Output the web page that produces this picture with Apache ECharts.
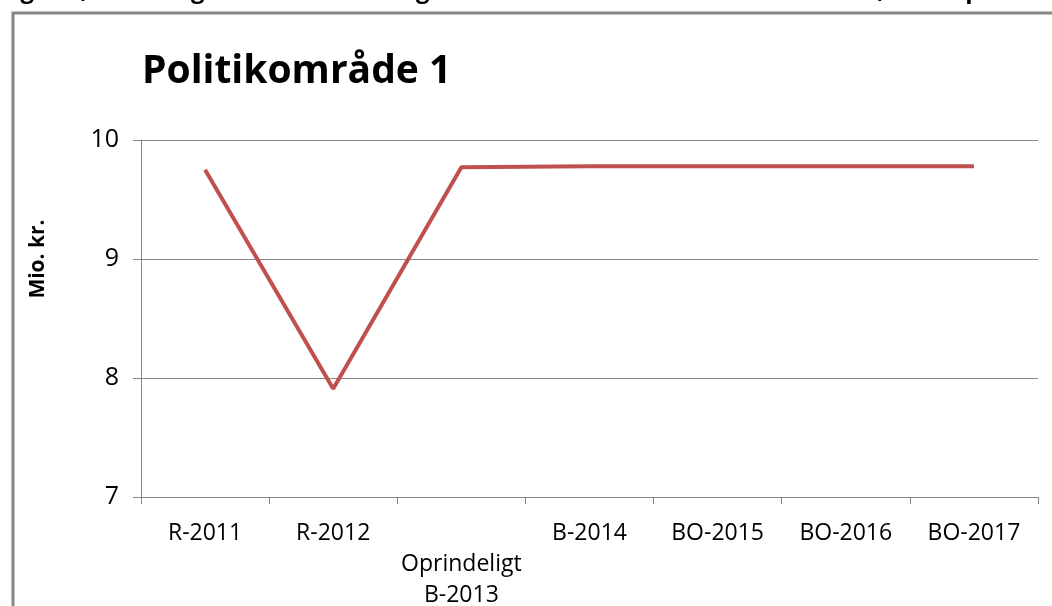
<!DOCTYPE html>
<html>
<head>
<meta charset="utf-8">
<script src="https://cdn.jsdelivr.net/npm/echarts@6/dist/echarts.min.js"></script>
<style>
  html, body { margin: 0; padding: 0; background: #fff; }
  #main { width: 1052px; height: 606px; }
</style>
</head>
<body>
<div id="main"></div>
<script>
const categories = ['R-2011', 'R-2012', '\nOprindeligt\nB-2013', 'B-2014', 'BO-2015', 'BO-2016', 'BO-2017'];
const values = [9.75, 7.91, 9.77, 9.78, 9.78, 9.78, 9.78];
const yTicks = [7, 8, 9, 10];

const chart = echarts.init(document.getElementById('main'));
const font = '"Open Sans", "Noto Sans", sans-serif';

chart.setOption({
  backgroundColor: '#fff',
  animation: false,
  textStyle: { fontFamily: font },
  graphic: [
    {
      type: 'text',
      left: 0,
      top: -21,
      style: {
        text: 'Figur 1, udviklingen i nettodriftsudgifterne i mio.kr. fra R-2011 til BO-2017, i 2014 priser',
        fontSize: 24,
        fontWeight: 'bold',
        fontFamily: font,
        fill: '#000'
      }
    },
    {
      type: 'rect',
      shape: { x: 13, y: 13, width: 1100, height: 700 },
      style: { fill: 'none', stroke: '#868686', lineWidth: 3 }
    },
    {
      // y axis title, placed where the reference has it
      type: 'text',
      x: 38,
      y: 259,
      rotation: Math.PI / 2,
      style: {
        text: 'Mio. kr.',
        fontSize: 21,
        fontWeight: 'bold',
        fontFamily: font,
        fill: '#000',
        align: 'center',
        verticalAlign: 'middle'
      }
    }
  ],
  title: {
    text: 'Politikområde 1',
    left: 137,
    top: 47,
    textStyle: { fontSize: 39, fontWeight: 'bold', color: '#000', fontFamily: font }
  },
  grid: { left: 141, top: 140, right: 14, bottom: 109, containLabel: false, outerBoundsMode: 'none' },
  xAxis: {
    type: 'category',
    data: categories,
    boundaryGap: true,
    axisLine: { lineStyle: { color: '#868686', width: 1 } },
    axisTick: { show: true, length: 7, lineStyle: { color: '#868686' } },
    axisLabel: { color: '#000', fontSize: 23, margin: 21, lineHeight: 31, interval: 0 }
  },
  yAxis: {
    type: 'value',
    min: yTicks[0],
    max: yTicks[yTicks.length - 1],
    interval: 1,
    axisLine: { show: true, lineStyle: { color: '#868686', width: 1 } },
    axisTick: { show: true, length: 8, lineStyle: { color: '#868686' } },
    splitLine: { show: true, lineStyle: { color: '#868686', width: 1 } },
    axisLabel: { color: '#000', fontSize: 25, margin: 22 }
  },
  series: [{
    type: 'line',
    data: values,
    symbol: 'none',
    lineStyle: { color: '#C0504D', width: 4 }
  }]
});
</script>
</body>
</html>
